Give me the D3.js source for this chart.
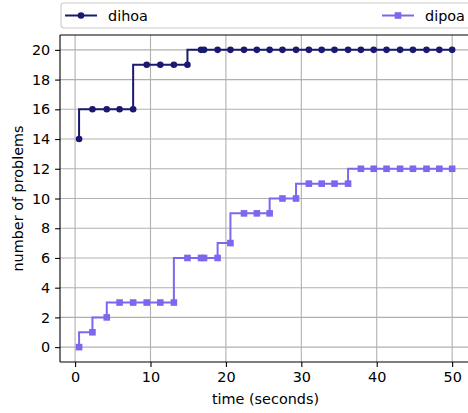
<!DOCTYPE html>
<html>
<head>
<meta charset="utf-8">
<script src="https://cdn.jsdelivr.net/npm/d3@7"></script>
<style>
    body { margin: 0; background: #fff; }
    svg text { font-family: "DejaVu Sans", sans-serif; fill: #000; }
</style>
</head>
<body>
<div id="chart"></div>
<script>
// data
const times = [0.53, 2.3, 4.2, 5.9, 7.7, 9.5, 11.3, 13.1, 14.9, 16.7, 17.1, 18.9, 20.6, 22.4, 24.1,
    25.8, 27.5, 29.3, 31.0, 32.7, 34.4, 36.2, 37.9, 39.6, 41.3, 43.1, 44.8, 46.6, 48.3, 50.0];
const dihoa = [14, 16, 16, 16, 16, 19, 19, 19, 19, 20, 20, 20, 20, 20, 20,
    20, 20, 20, 20, 20, 20, 20, 20, 20, 20, 20, 20, 20, 20, 20];
const dipoa = [0, 1, 2, 3, 3, 3, 3, 3, 6, 6, 6, 6, 7, 9, 9,
    9, 10, 10, 11, 11, 11, 11, 12, 12, 12, 12, 12, 12, 12, 12];
const seriesNames = ["dihoa", "dipoa"];
const xTicks = [0, 10, 20, 30, 40, 50];
const yTicks = [0, 2, 4, 6, 8, 10, 12, 14, 16, 18, 20];

const width = 468, height = 413;
const plot = {left: 60, top: 35, right: 471, bottom: 362};
const fontSize = "14.4px";

const svg = d3.select("#chart").append("svg")
    .attr("width", width)
    .attr("height", height);

const x = d3.scaleLinear().domain([-2, 52.5]).range([plot.left, plot.right]);
const y = d3.scaleLinear().domain([-1, 21]).range([plot.bottom, plot.top]);

// grid
svg.append("g").selectAll("line.gx")
    .data(xTicks).join("line")
    .attr("x1", d => x(d)).attr("x2", d => x(d))
    .attr("y1", plot.top).attr("y2", plot.bottom)
    .attr("stroke", "#b0b0b0").attr("stroke-width", 1.1);
svg.append("g").selectAll("line.gy")
    .data(yTicks).join("line")
    .attr("x1", plot.left).attr("x2", plot.right)
    .attr("y1", d => y(d)).attr("y2", d => y(d))
    .attr("stroke", "#b0b0b0").attr("stroke-width", 1.1);

// axes
const xAxis = d3.axisBottom(x).tickValues(xTicks).tickSizeInner(4.9).tickSizeOuter(0).tickPadding(4.9);
const yAxis = d3.axisLeft(y).tickValues(yTicks).tickSizeInner(4.9).tickSizeOuter(0).tickPadding(4.9);

const gx = svg.append("g").attr("transform", `translate(0,${plot.bottom})`).call(xAxis);
const gy = svg.append("g").attr("transform", `translate(${plot.left},0)`).call(yAxis);
[gx, gy].forEach(g => {
    g.select(".domain").remove();
    g.selectAll("line").attr("stroke", "#000").attr("stroke-width", 1.1);
    g.selectAll("text").attr("font-size", fontSize).attr("font-family", "DejaVu Sans").attr("fill", "#000");
});

// series
const colors = {dihoa: "#191970", dipoa: "#7b68ee"};
const lineGen = d3.line()
    .x(d => x(d[0]))
    .y(d => y(d[1]))
    .curve(d3.curveStepBefore);

const dataA = times.map((t, i) => [t, dihoa[i]]);
const dataB = times.map((t, i) => [t, dipoa[i]]);

svg.append("path").datum(dataA)
    .attr("d", lineGen).attr("fill", "none")
    .attr("stroke", colors.dihoa).attr("stroke-width", 2);
svg.append("g").selectAll("circle")
    .data(dataA).join("circle")
    .attr("cx", d => x(d[0])).attr("cy", d => y(d[1]))
    .attr("r", 3.3).attr("fill", colors.dihoa);

svg.append("path").datum(dataB)
    .attr("d", lineGen).attr("fill", "none")
    .attr("stroke", colors.dipoa).attr("stroke-width", 2);
svg.append("g").selectAll("rect")
    .data(dataB).join("rect")
    .attr("x", d => x(d[0]) - 3.3).attr("y", d => y(d[1]) - 3.3)
    .attr("width", 6.6).attr("height", 6.6).attr("fill", colors.dipoa);

// spines
svg.append("line").attr("x1", plot.left).attr("x2", plot.left)
    .attr("y1", plot.top).attr("y2", plot.bottom)
    .attr("stroke", "#000").attr("stroke-width", 1.1);
svg.append("line").attr("x1", plot.left).attr("x2", plot.right)
    .attr("y1", plot.bottom).attr("y2", plot.bottom)
    .attr("stroke", "#000").attr("stroke-width", 1.1);
svg.append("line").attr("x1", plot.left).attr("x2", plot.right)
    .attr("y1", plot.top).attr("y2", plot.top)
    .attr("stroke", "#000").attr("stroke-width", 1.1);

// axis labels
svg.append("text")
    .attr("x", (plot.left + plot.right) / 2).attr("y", 404)
    .attr("text-anchor", "middle").attr("font-size", fontSize)
    .text("time (seconds)");
svg.append("text")
    .attr("transform", `translate(23,${(plot.top + plot.bottom) / 2}) rotate(-90)`)
    .attr("text-anchor", "middle").attr("font-size", fontSize)
    .text("number of problems");

// legend
const legend = svg.append("g");
legend.append("rect")
    .attr("x", 61).attr("y", 3).attr("width", 410).attr("height", 25)
    .attr("rx", 3).attr("fill", "#fff")
    .attr("stroke", "#cccccc").attr("stroke-width", 1.1);

const legendPos = [65, 382];
seriesNames.forEach((name, i) => {
    const lx = legendPos[i];
    const g = legend.append("g");
    g.append("line").attr("x1", lx).attr("x2", lx + 32)
        .attr("y1", 15.5).attr("y2", 15.5)
        .attr("stroke", colors[name]).attr("stroke-width", 2);
    if (name === "dihoa") {
        g.append("circle").attr("cx", lx + 16).attr("cy", 15.5).attr("r", 3.3).attr("fill", colors[name]);
    } else {
        g.append("rect").attr("x", lx + 16 - 3.3).attr("y", 15.5 - 3.3)
            .attr("width", 6.6).attr("height", 6.6).attr("fill", colors[name]);
    }
    g.append("text").attr("x", lx + 43).attr("y", 20.5)
        .attr("font-size", fontSize).text(name);
});
</script>
</body>
</html>
